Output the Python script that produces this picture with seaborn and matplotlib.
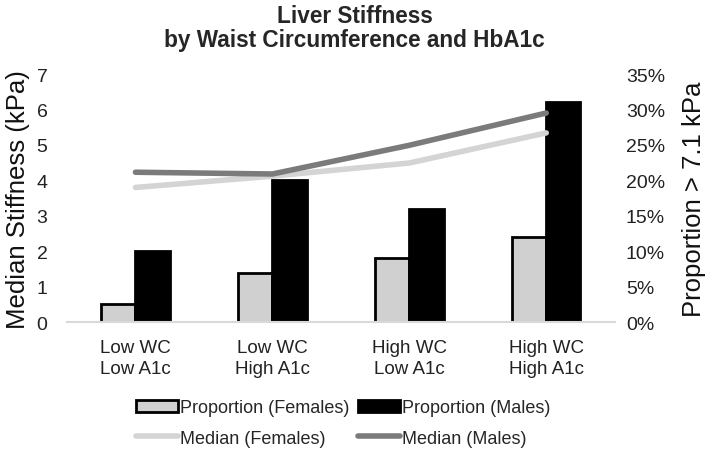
import numpy as np
import pandas as pd
import matplotlib.pyplot as plt
import matplotlib.ticker as mtick
from matplotlib.patches import Patch
from matplotlib.lines import Line2D
import seaborn as sns

# values
groups = ['Low WC\nLow A1c', 'Low WC\nHigh A1c', 'High WC\nLow A1c', 'High WC\nHigh A1c']
prop_females = [0.026, 0.070, 0.090, 0.120]
prop_males = [0.100, 0.200, 0.160, 0.310]
median_females = [3.80, 4.12, 4.49, 5.34]
median_males = [4.23, 4.18, 4.99, 5.90]

sns.set_theme(style='white')
plt.rcParams['font.family'] = ['Liberation Sans', 'DejaVu Sans']

bars_df = pd.DataFrame({
    'group': groups * 2,
    'sex': ['Proportion (Females)'] * 4 + ['Proportion (Males)'] * 4,
    'prop': prop_females + prop_males,
})
pos = list(range(len(groups)))
lines_df = pd.DataFrame({
    'pos': pos * 2,
    'sex': ['Median (Females)'] * 4 + ['Median (Males)'] * 4,
    'median': median_females + median_males,
})

bar_colors = {'Proportion (Females)': '#d0d0d0', 'Proportion (Males)': '#000000'}
line_colors = {'Median (Females)': '#d4d4d4', 'Median (Males)': '#7b7b7b'}

fig = plt.figure(figsize=(7.09, 4.52), dpi=100)
ax = fig.add_axes([0.0945, 0.285, 0.7725, 0.549])
ax2 = ax.twinx()

sns.barplot(data=bars_df, x='group', y='prop', hue='sex', order=groups,
            palette=bar_colors, width=0.5, edgecolor='black', linewidth=2,
            legend=False, ax=ax2)
sns.lineplot(data=lines_df, x='pos', y='median', hue='sex',
             palette=line_colors, linewidth=4, legend=False, ax=ax)

# lines over bars
ax.set_zorder(ax2.get_zorder() + 1)
ax.patch.set_visible(False)

ax.set_xlim(-0.5, 3.5)
ax.set_ylim(0, 7)
ax2.set_ylim(0, 0.35)
ax.set_yticks(range(0, 8))
ax2.set_yticks(np.arange(0, 0.36, 0.05))
ax2.yaxis.set_major_formatter(mtick.PercentFormatter(1.0, decimals=0))

ax.set_xticks(pos)
ax.set_xticklabels(groups, linespacing=1.35)
ax.set_xlabel('')
ax2.set_xlabel('')
ax.set_ylabel('Median Stiffness (kPa)', fontsize=18.5, color='#111111', labelpad=5)
ax2.set_ylabel('Proportion > 7.1 kPa', fontsize=18.5, color='#111111', labelpad=12)

ax.tick_params(axis='x', length=0, pad=12, labelsize=13.5, colors='#222222')
ax.tick_params(axis='y', length=0, pad=14, labelsize=14, colors='#222222')
ax2.tick_params(axis='y', length=0, pad=8, labelsize=14, colors='#222222')

for a in (ax, ax2):
    for s in ['top', 'left', 'right', 'bottom']:
        a.spines[s].set_visible(False)
ax.spines['bottom'].set_visible(True)
ax.spines['bottom'].set_color('#d9d9d9')
ax.spines['bottom'].set_linewidth(1.5)

fig.suptitle('Liver Stiffness\nby Waist Circumference and HbA1c',
             fontsize=16.3, fontweight='bold', y=0.99, va='top', linespacing=1.1)

# column-first fill: col 1 = females, col 2 = males
handles = [
    Patch(facecolor=bar_colors['Proportion (Females)'], edgecolor='black', linewidth=2),
    Line2D([], [], color=line_colors['Median (Females)'], linewidth=4),
    Patch(facecolor=bar_colors['Proportion (Males)'], edgecolor='black', linewidth=2),
    Line2D([], [], color=line_colors['Median (Males)'], linewidth=4),
]
labels = ['Proportion (Females)', 'Median (Females)', 'Proportion (Males)', 'Median (Males)']
fig.legend(handles, labels, ncol=2, loc='center', bbox_to_anchor=(0.484, 0.062),
           frameon=False, fontsize=13, handlelength=2.3, handletextpad=0.1,
           columnspacing=0.5, labelspacing=0.75)

plt.savefig('out.png', dpi=100)
plt.close()
